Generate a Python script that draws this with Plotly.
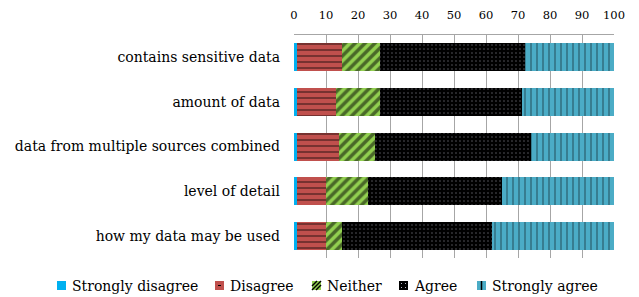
import plotly.graph_objects as go

categories = ["contains sensitive data", "amount of data", "data from multiple sources combined",
              "level of detail", "how my data may be used"]
series_names = ["Strongly disagree", "Disagree", "Neither", "Agree", "Strongly agree"]
strongly_disagree = [1.0, 1.0, 1.0, 1.0, 1.0]
disagree = [14.1, 12.0, 13.0, 8.9, 8.9]
neither = [11.9, 14.0, 11.2, 13.2, 5.1]
agree = [45.1, 44.1, 49.0, 42.0, 47.0]
strongly_agree = [27.9, 28.9, 25.8, 34.9, 38.0]
x_ticks = [0, 10, 20, 30, 40, 50, 60, 70, 80, 90, 100]

FONT = "DejaVu Serif"

colors = ["#00B0F0", "#C0504D", "#92D050", "#000000", "#4BACC6"]
patterns = [
    None,
    dict(shape="-", fgcolor="black", fgopacity=0.75, size=6, solidity=0.17),
    dict(shape="/", fgcolor="black", size=7, solidity=0.5),
    dict(shape=".", fgcolor="#B8B8C8", size=4, solidity=0.12),
    dict(shape="|", fgcolor="black", size=6, solidity=0.18),
]
values = [strongly_disagree, disagree, neither, agree, strongly_agree]

W, H = 631, 289
L, R, T, B = 286, 25, 27, 39
PW, PH = W - L - R, H - T - B

fig = go.Figure()
for name, vals, col, pat in zip(series_names, values, colors, patterns):
    marker = dict(color=col, line=dict(width=0))
    if pat:
        marker["pattern"] = dict(bgcolor=col, **pat)
    fig.add_trace(go.Bar(y=categories, x=vals, name=name, orientation="h",
                         marker=marker, showlegend=False))

def px(x):
    return (x - L) / PW

def py(y):
    return (H - B - y) / PH

icon_x = [49, 207, 304, 391, 469]
icon_y0, icon_y1 = 273, 282
shapes = []
annotations = []
for i, (name, col) in enumerate(zip(series_names, colors)):
    x0 = icon_x[i]
    x1 = x0 + 9
    shapes.append(dict(type="rect", xref="paper", yref="paper", x0=px(x0), x1=px(x1),
                       y0=py(icon_y1), y1=py(icon_y0), fillcolor=col, line=dict(width=0)))
    if name == "Disagree":
        shapes.append(dict(type="line", xref="paper", yref="paper", x0=px(x0 + 3), x1=px(x0 + 6),
                           y0=py(277.5), y1=py(277.5), line=dict(color="black", width=1)))
    elif name == "Neither":
        for off in (-4, 0, 4):
            a0, a1 = max(0, off), min(9, 9 + off)
            shapes.append(dict(type="line", xref="paper", yref="paper",
                               x0=px(x0 + a0), y0=py(icon_y1 - (a0 - off)),
                               x1=px(x0 + a1), y1=py(icon_y1 - (a1 - off)),
                               line=dict(color="black", width=1.5)))
    elif name == "Agree":
        for dx in (2.5, 6.5):
            for dy in (2.5, 6.5):
                shapes.append(dict(type="rect", xref="paper", yref="paper",
                                   x0=px(x0 + dx - 0.5), x1=px(x0 + dx + 0.5),
                                   y0=py(icon_y0 + dy + 0.5), y1=py(icon_y0 + dy - 0.5),
                                   fillcolor="#B8B8C8", line=dict(width=0)))
    elif name == "Strongly agree":
        shapes.append(dict(type="line", xref="paper", yref="paper", x0=px(x0 + 4.5), x1=px(x0 + 4.5),
                           y0=py(icon_y1), y1=py(icon_y0), line=dict(color="black", width=1.5)))
    annotations.append(dict(text=name, xref="paper", yref="paper", x=px(x1 + 4), y=py(277.5),
                            xanchor="left", yanchor="middle", showarrow=False,
                            font=dict(size=14, family=FONT, color="black")))

fig.update_layout(
    barmode="stack",
    bargap=0.372,
    width=W, height=H,
    margin=dict(l=L, r=R, t=T, b=B, autoexpand=False, pad=0),
    paper_bgcolor="white", plot_bgcolor="white",
    font=dict(family=FONT, size=14, color="black"),
    showlegend=False,
    shapes=shapes,
    annotations=annotations,
    xaxis=dict(side="top", range=[0, 100], tickvals=x_ticks, showgrid=True, gridcolor="#A6A6A6",
               gridwidth=1, showline=True, linecolor="#A6A6A6", linewidth=1, ticks="",
               zeroline=False, tickfont=dict(size=11.5, family=FONT), ticklabelstandoff=10,
               fixedrange=True),
    yaxis=dict(autorange="reversed", ticks="", showline=False, showgrid=False,
               tickfont=dict(size=14, family=FONT), ticklabelstandoff=13, fixedrange=True),
)

fig.write_html("out.html", config={"displayModeBar": False})
